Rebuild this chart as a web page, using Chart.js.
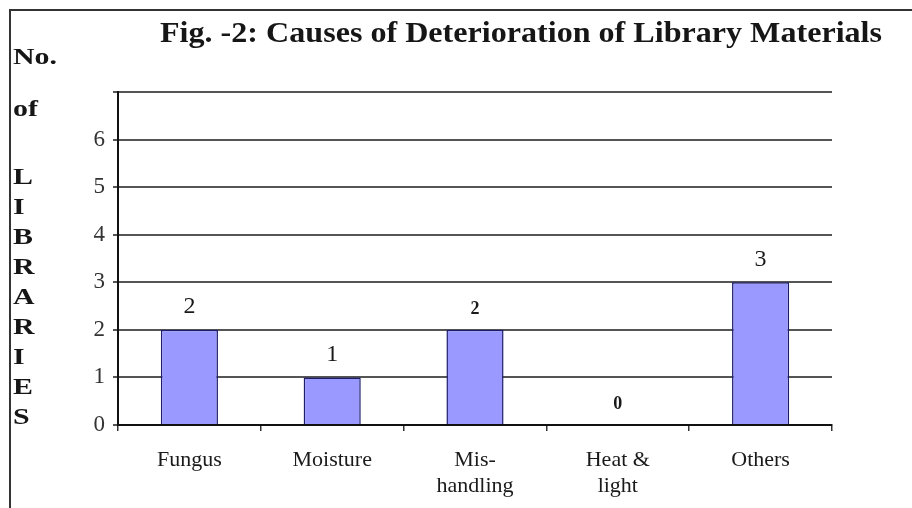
<!DOCTYPE html>
<html>
<head>
<meta charset="utf-8">
<script src="https://cdn.jsdelivr.net/npm/chart.js@4/dist/chart.umd.min.js"></script>
<style>
  html, body { margin: 0; padding: 0; background: #fff; }
  #wrap { width: 912px; height: 508px; }
</style>
</head>
<body>
<div id="wrap"><canvas id="chart"></canvas></div>
<script>
const categories = ['Fungus', 'Moisture', ['Mis-', 'handling'], ['Heat &', 'light'], 'Others'];
const libraries = [2, 1, 2, 0, 3];
const yTicks = [0, 1, 2, 3, 4, 5, 6];
const titleText = 'Fig. -2: Causes of Deterioration of Library Materials';
const yTitleWords = ['No.', 'of'];
const yTitleLetters = ['L', 'I', 'B', 'R', 'A', 'R', 'I', 'E', 'S'];

const serif = '"Liberation Serif", "Times New Roman", serif';
// the value labels in the original are not all set the same way
const valueBold = [false, false, true, true, false];

// frame, title, stacked y title and value labels
const decor = {
    id: 'decor',
    beforeDraw(chart) {
        const ctx = chart.ctx;
        ctx.save();
        ctx.fillStyle = '#fff';
        ctx.fillRect(0, 0, chart.width, chart.height);
        ctx.strokeStyle = '#333';
        ctx.lineWidth = 2;
        ctx.beginPath();
        ctx.moveTo(10, chart.height);
        ctx.lineTo(10, 10);
        ctx.lineTo(chart.width, 10);
        ctx.stroke();
        ctx.restore();
    },
    afterDraw(chart) {
        const ctx = chart.ctx;
        ctx.save();
        ctx.fillStyle = '#161616';
        ctx.textBaseline = 'middle';
        ctx.textAlign = 'left';

        // title, stretched a little like the scanned original
        ctx.font = 'bold 29px ' + serif;
        const tw = ctx.measureText(titleText).width;
        ctx.save();
        ctx.translate(160, 35);
        ctx.scale(722 / tw, 1);
        ctx.fillText(titleText, 0, 0);
        ctx.restore();

        ctx.font = 'bold 23px ' + serif;
        ctx.save();
        ctx.translate(13, 0);
        ctx.scale(1.3, 1);
        yTitleWords.forEach((w, i) => ctx.fillText(w, 0, 58 + i * 52));
        yTitleLetters.forEach((c, i) => ctx.fillText(c, 0, 178 + i * 30));
        ctx.restore();
        ctx.restore();
    },
    afterDatasetsDraw(chart) {
        const ctx = chart.ctx;
        const meta = chart.getDatasetMeta(0);
        ctx.save();
        ctx.fillStyle = '#1a1a1a';
        ctx.textAlign = 'center';
        ctx.textBaseline = 'middle';
        meta.data.forEach((bar, i) => {
            ctx.font = valueBold[i] ? 'bold 18px ' + serif : '24px ' + serif;
            ctx.fillText(String(libraries[i]), bar.x, bar.y - (valueBold[i] ? 21 : 23));
        });
        ctx.restore();
    },
};

new Chart(document.getElementById('chart'), {
    type: 'bar',
    data: {
        labels: categories,
        datasets: [
            {
                label: 'No. of libraries',
                data: libraries,
                backgroundColor: '#9999ff',
                borderColor: '#1c1c6a',
                borderWidth: 1.5,
                barPercentage: 0.4,
                categoryPercentage: 1.0,
            },
        ],
    },
    options: {
        responsive: true,
        maintainAspectRatio: false,
        animation: false,
        layout: { padding: { left: 60, right: 80, top: 92, bottom: 0 } },
        plugins: {
            legend: { display: false },
            title: { display: false },
            tooltip: { enabled: false },
        },
        scales: {
            x: {
                afterFit: (scale) => { scale.height = 83; },
                grid: {
                    offset: true,
                    drawOnChartArea: false,
                    drawTicks: true,
                    tickLength: 6,
                    color: '#333',
                    lineWidth: 1.5,
                },
                border: { color: '#111', width: 2 },
                ticks: {
                    color: '#1a1a1a',
                    font: { family: serif, size: 22, lineHeight: 1.2 },
                    padding: 16,
                    maxRotation: 0,
                    autoSkip: false,
                },
            },
            y: {
                min: 0,
                max: 7,
                afterFit: (scale) => { scale.width = 58; },
                grid: {
                    color: '#555',
                    lineWidth: 2,
                    tickLength: 5,
                },
                border: { color: '#111', width: 2 },
                ticks: {
                    stepSize: 1,
                    color: '#333',
                    padding: 8,
                    font: { family: serif, size: 23 },
                    callback: (v) => (yTicks.includes(v) ? v : ''),
                },
            },
        },
    },
    plugins: [decor],
});
</script>
</body>
</html>
